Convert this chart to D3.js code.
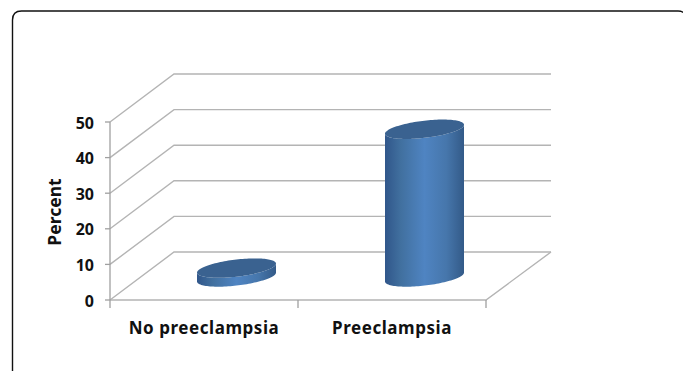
<!DOCTYPE html>
<html>
<head>
<meta charset="utf-8">
<script src="https://cdn.jsdelivr.net/npm/d3@7"></script>
<style>
  html, body { margin: 0; padding: 0; background: #fff; overflow: hidden; }
  svg { display: block; }
  text { font-family: "Noto Sans", sans-serif; font-weight: 700; fill: #111; }
</style>
</head>
<body>
<svg id="chart" width="683" height="371"></svg>
<script>
const categories = ["No preeclampsia", "Preeclampsia"];
const percentValues = [2.5, 41.5];
const yTicks = [0, 10, 20, 30, 40, 50];
const axisTitle = "Percent";

const svg = d3.select("#chart");
const defs = svg.append("defs");

// Front plane of the 3D plot box, plus the offset to its back plane
const y = d3.scaleLinear().domain([0, 50]).range([300, 122]);
const x = d3.scaleBand().domain(categories).range([110, 486]);
const depth = { dx: 64, dy: -48 };

// Cylinder footprint: a sheared ellipse sitting mid-way into the floor
const radiusX = 39.5, radiusY = 8.6, shear = -4.5;
const floorShift = { dx: 32.5, dy: -23 };

// Card outline, running off the right-hand side of the page
svg.append("path")
  .attr("d", "M12.5,372 V20 Q12.5,11 21.5,11 H678 Q682,11 684,13")
  .attr("fill", "none").attr("stroke", "#111").attr("stroke-width", 1.4);

const grid = svg.append("g").attr("fill", "none").attr("stroke", "#b4b4b4").attr("stroke-width", 1.4);

// Wall gridlines: one slanted stretch on the side wall, one level stretch on the back wall
yTicks.forEach(t => {
  const y0 = y(t);
  grid.append("path").attr("d", d3.line()([
    [x.range()[0], y0],
    [x.range()[0] + depth.dx, y0 + depth.dy],
    [x.range()[1] + depth.dx + 1, y0 + depth.dy]
  ]));
});

// Floor front edge and right edge
grid.append("path").attr("d", d3.line()([
  [x.range()[0], y(0)],
  [x.range()[1], y(0)],
  [x.range()[1] + depth.dx + 1, y(0) + depth.dy]
]));

// Axes
const axes = svg.append("g").attr("fill", "none").attr("stroke", "#a0a0a0").attr("stroke-width", 1.3);
axes.append("path").attr("d", d3.line()([[x.range()[0], y(50)], [x.range()[0], y(0)]]));
yTicks.forEach(t => {
  axes.append("path").attr("d", d3.line()([[x.range()[0] - 5, y(t)], [x.range()[0], y(t)]]));
});
[x.range()[0], x.range()[0] + x.step(), x.range()[1]].forEach(px => {
  axes.append("path").attr("d", d3.line()([[px, y(0)], [px, y(0) + 8]]));
});

// Horizontal shading across the cylinder body
const side = defs.append("linearGradient").attr("id", "cylSide")
  .attr("x1", "0").attr("x2", "1").attr("y1", "0").attr("y2", "0");
[[0, "#30568a"], [0.2, "#41709f"], [0.5, "#4f84c2"], [0.78, "#4676ab"], [1, "#335a88"]]
  .forEach(([o, c]) => side.append("stop").attr("offset", o).attr("stop-color", c));

const ellipsePoint = (cx, cy, a) => [
  cx + radiusX * Math.cos(a),
  cy + radiusY * Math.sin(a) + shear * Math.cos(a)
];

categories.forEach((c, i) => {
  const cx = x(c) + x.bandwidth() / 2 + floorShift.dx;
  const base = y(0) + floorShift.dy;
  const top = base - (y(0) - y(percentValues[i]));

  // Body outline: left edge, lower half of the base ellipse, right edge, back across the top
  const lower = d3.range(0, 61).map(k => ellipsePoint(cx, base, Math.PI - Math.PI * k / 60));
  const upper = d3.range(0, 61).map(k => ellipsePoint(cx, top, Math.PI * k / 60));
  svg.append("path")
    .attr("d", d3.line()(lower.concat(upper)) + "Z")
    .attr("fill", "url(#cylSide)");

  // Cap
  const cap = d3.range(0, 121).map(k => ellipsePoint(cx, top, 2 * Math.PI * k / 120));
  svg.append("path").attr("d", d3.line()(cap) + "Z").attr("fill", "#3a6290");
});

// Tick labels
svg.selectAll(".ylab").data(yTicks).join("text")
  .attr("class", "ylab")
  .attr("x", 94).attr("y", d => y(d) + 6.5)
  .attr("text-anchor", "end").attr("font-size", 16)
  .text(d => d);

svg.selectAll(".xlab").data(categories).join("text")
  .attr("class", "xlab")
  .attr("x", d => x(d) + x.bandwidth() / 2)
  .attr("y", 334)
  .attr("text-anchor", "middle").attr("font-size", 17)
  .attr("letter-spacing", 0.55)
  .text(d => d);

svg.append("text")
  .attr("transform", "translate(61,212) rotate(-90)")
  .attr("text-anchor", "middle").attr("font-size", 17.5)
  .text(axisTitle);
</script>
</body>
</html>
